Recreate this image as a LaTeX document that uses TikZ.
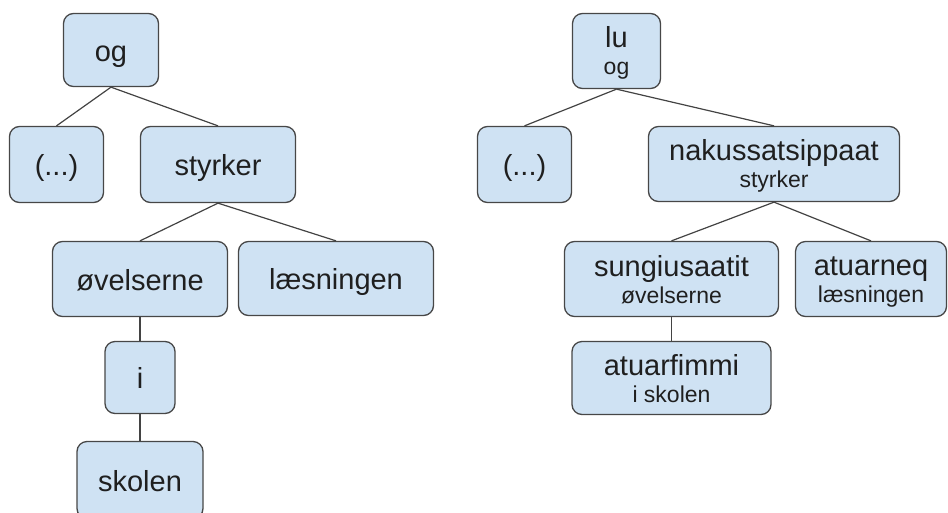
\documentclass[tikz,border=0pt]{standalone}
\usepackage{fontspec}
\setmainfont{Liberation Sans}
\definecolor{boxfill}{HTML}{CFE2F3}
\definecolor{boxline}{HTML}{474747}
\definecolor{edgecol}{HTML}{434343}
\definecolor{textcol}{HTML}{1F1F1F}
\newcommand{\mainsize}{\fontsize{29}{27}\selectfont}
\newcommand{\subsize}{\fontsize{23}{27}\selectfont}
% word over its gloss: baselines 27pt apart, fixed vertical extent
\newcommand{\twoline}[2]{\vbox{\offinterlineskip
  \halign{\hfil##\hfil\cr
    \rule[-7pt]{0pt}{32pt}#1\cr
    \rule[-4pt]{0pt}{24pt}\subsize#2\cr}}}

\begin{document}
\begin{tikzpicture}[x=1pt,y=-1pt,
  wordbox/.style={draw=boxline, fill=boxfill, line width=1.3pt,
    rounded corners=10pt, inner sep=0pt,
    text=textcol, font=\mainsize},
  oneline/.style={wordbox, text height=26pt, text depth=4pt},
  link/.style={draw=edgecol, line width=1.2pt}]
  \useasboundingbox (0,0) rectangle (948,512);
  \clip (0,0) rectangle (948,512);

  % Danish tree
  \node[oneline, minimum width=95pt, minimum height=73pt] (og) at (111,50) {og};
  \node[oneline, minimum width=94pt, minimum height=76pt] (dotsA) at (56.5,164.5) {(...)};
  \node[oneline, minimum width=155pt, minimum height=76pt] (styrker) at (218,164.5) {styrker};
  \node[oneline, minimum width=175pt, minimum height=75pt] (ovelserne) at (140,279) {øvelserne};
  \node[oneline, minimum width=195pt, minimum height=74pt] (laesningen) at (336,278.5) {læsningen};
  \node[oneline, minimum width=70pt, minimum height=72pt] (i) at (140,377.5) {i};
  \node[oneline, minimum width=126pt, minimum height=77pt] (skolen) at (140,480) {skolen};

  \draw[link] (og.south) -- (dotsA.north);
  \draw[link] (og.south) -- (styrker.north);
  \draw[link] (styrker.south) -- (ovelserne.north);
  \draw[link] (styrker.south) -- (laesningen.north);
  \draw[link] (ovelserne.south) -- (i.north);
  \draw[link] (i.south) -- (skolen.north);

  % Greenlandic tree with Danish glosses
  \node[wordbox, minimum width=88pt, minimum height=75pt] (lu) at (616.5,51) {\twoline{lu}{og}};
  \node[oneline, minimum width=94pt, minimum height=76pt] (dotsB) at (524.5,164.5) {(...)};
  \node[wordbox, minimum width=251pt, minimum height=75pt] (naku) at (774,164) {\twoline{nakussatsippaat}{styrker}};
  \node[wordbox, minimum width=214pt, minimum height=75pt] (sung) at (671.5,279) {\twoline{sungiusaatit}{øvelserne}};
  \node[wordbox, minimum width=151pt, minimum height=75pt] (atuarneq) at (871,279) {\twoline{atuarneq}{læsningen}};
  \node[wordbox, minimum width=199pt, minimum height=73pt] (atuarfimmi) at (671.5,378) {\twoline{atuarfimmi}{i skolen}};

  \draw[link] (lu.south) -- (dotsB.north);
  \draw[link] (lu.south) -- (naku.north);
  \draw[link] (naku.south) -- (sung.north);
  \draw[link] (naku.south) -- (atuarneq.north);
  \draw[link] (sung.south) -- (atuarfimmi.north);
\end{tikzpicture}
\end{document}
